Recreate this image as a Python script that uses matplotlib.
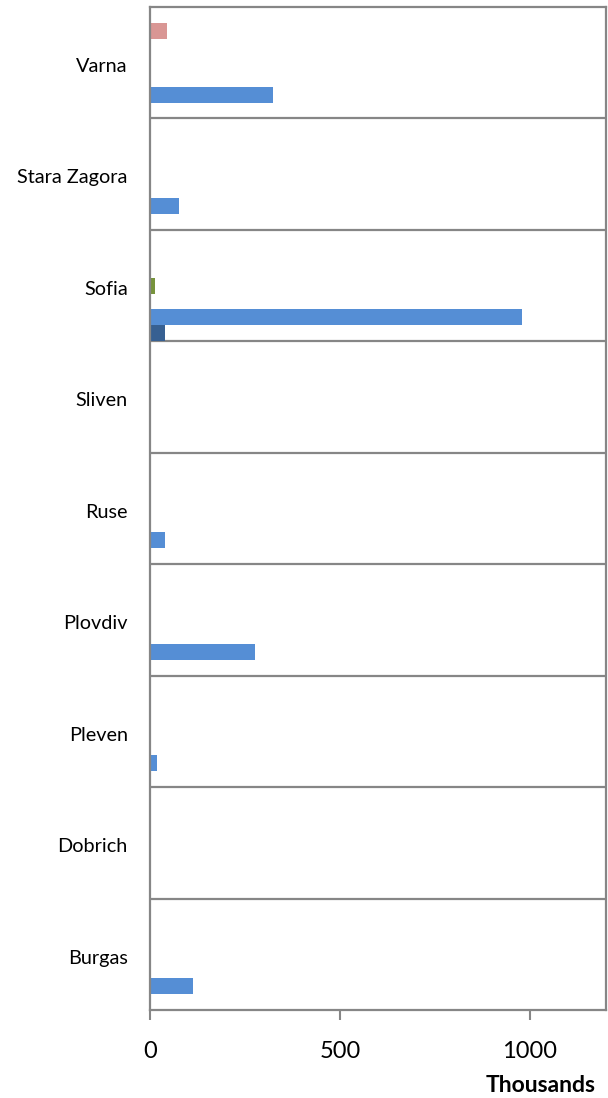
import matplotlib
matplotlib.use("Agg")
import matplotlib.pyplot as plt
import numpy as np

cities = ["Burgas", "Dobrich", "Pleven", "Plovdiv", "Ruse", "Sliven", "Sofia", "Stara Zagora", "Varna"]

# values in thousands, one list per series (series 1 drawn lowest in each group)
series_1 = [0, 0, 0, 0, 0, 0, 40, 0, 0]
series_2 = [113, 0, 18, 277, 40, 0, 978, 77, 324]
series_3 = [0, 0, 0, 0, 0, 0, 0, 0, 0]
series_4 = [0, 0, 0, 0, 0, 0, 13, 0, 0]
series_5 = [0, 0, 0, 0, 0, 0, 0, 0, 0]
series_6 = [0, 0, 0, 0, 0, 0, 0, 0, 45]
series_7 = [0, 0, 0, 0, 0, 0, 0, 0, 0]

all_series = [series_1, series_2, series_3, series_4, series_5, series_6, series_7]
colors = ["#376092", "#558ED5", "#C0504D", "#77933C", "#8064A2", "#D99694", "#F79646"]

plt.rcParams['font.family'] = ['Lato', 'DejaVu Sans']

fig = plt.figure(figsize=(6.08, 10.98), dpi=100)
ax = fig.add_axes([150 / 608, 1 - 1010 / 1098, 456 / 608, 1003 / 1098])

n = len(all_series)
h = 1.0 / n
y = np.arange(len(cities))
for i, (vals, c) in enumerate(zip(all_series, colors)):
    ax.barh(y - 0.5 + h * (i + 0.5), vals, height=h, color=c, linewidth=0)

ax.set_xlim(0, 1200)
ax.set_ylim(-0.5, len(cities) - 0.5)
ax.set_xticks([0, 500, 1000])
ax.set_xticklabels(["0", "500", "1000"], fontsize=17)
ax.set_yticks(y - 0.02)
ax.set_yticklabels(cities, fontsize=14.3)
ax.tick_params(axis="y", length=0, pad=16)
ax.tick_params(axis="x", length=7, width=1.5, color="#868686", pad=15)

for b in np.arange(0.5, len(cities) - 0.5, 1):
    ax.axhline(b, color="#868686", linewidth=1.6, zorder=0)

for s in ax.spines.values():
    s.set_color("#868686")
    s.set_linewidth(1.6)

fig.text(596 / 608, 1 - 1085 / 1098, "Thousands", ha="right", va="center",
         fontsize=16.5, fontweight="bold")

plt.savefig("out.png", dpi=100)
plt.close()
